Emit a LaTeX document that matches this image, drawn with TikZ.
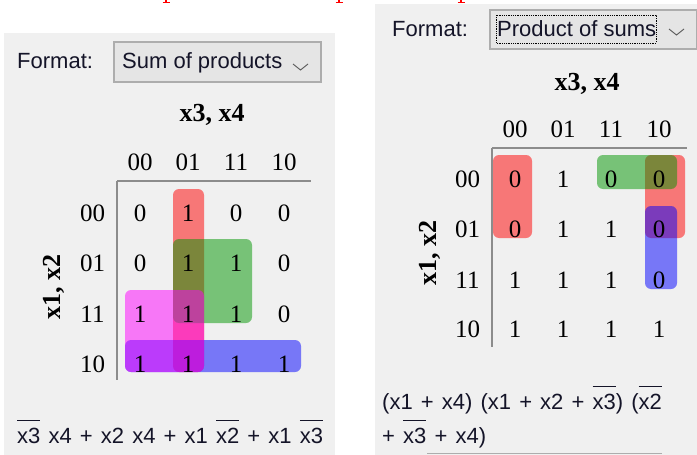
\documentclass[tikz,border=0pt]{standalone}
\usepackage{fontspec}
\setmainfont{Liberation Serif}
\newfontfamily\uisans{Liberation Sans}
\newsavebox\ovlbox
\newcommand\ovl[1]{\sbox\ovlbox{#1}\rlap{\raisebox{0.98em}{\rule{\wd\ovlbox}{1.3pt}}}\usebox\ovlbox}
\newcommand\widesp{\spaceskip=0.37em\relax}
\definecolor{panelgrey}{RGB}{240,240,240}
\definecolor{combofill}{RGB}{229,229,229}
\definecolor{comboborder}{RGB}{173,173,173}
\definecolor{gridgrey}{RGB}{140,140,140}
\definecolor{chevgrey}{RGB}{96,96,96}
\definecolor{grpred}{RGB}{255,0,0}
\definecolor{grpgreen}{RGB}{0,150,0}
\definecolor{grpblue}{RGB}{0,0,255}
\definecolor{grpmag}{RGB}{255,0,255}
\definecolor{uitextcol}{RGB}{20,20,40}
\begin{document}
\begin{tikzpicture}[x=1pt,y=-1pt,
  panel/.style={fill=panelgrey,draw=none},
  combo/.style={fill=combofill,draw=comboborder,line width=1.2pt},
  uitext/.style={font=\uisans\fontsize{22}{26}\selectfont,text=uitextcol,inner sep=0pt,anchor=base west},
  digit/.style={font=\fontsize{25}{30}\selectfont,inner sep=0pt,anchor=base},
  axislabel/.style={font=\bfseries\fontsize{26}{30}\selectfont,inner sep=0pt,anchor=base},
  gridline/.style={draw=gridgrey,line width=1.5pt},
  grp/.style={rounded corners=6pt,fill opacity=0.5,draw=none},
  chev/.style={draw=chevgrey,line width=1pt},
  redmark/.style={draw=red,line width=1.6pt}]
\useasboundingbox (0,0) rectangle (697,455);
% red cut-off marks at the top
\draw[redmark] (166,0) -- (166,2.5) (162.5,2.5) -- (169.5,2.5);
\draw[redmark] (339,0) -- (339,2.5) (335.5,2.5) -- (342.5,2.5);
\draw[redmark] (461,0) -- (461,2.5) (457.5,2.5) -- (464.5,2.5);
% panels
\fill[panel] (4,33) rectangle (335,455);
\fill[panel] (375,3.5) rectangle (697,455);
% ---------------- left panel ----------------
\node[uitext] (Lfmt) at (17,68.5) {Format:};
\draw[combo] (114,42) rectangle (321,82);
\node[uitext] (Lcombo) at (122,68.5) {Sum of products};
\draw[chev] (293,64) -- (300.5,70) -- (308,64);
\node[axislabel] (Lx34) at (212,121) {x3, x4};
\node[axislabel,rotate=90] (Lx12) at (60,287) {x1, x2};
% groups
\fill[grp,grpred] (173,189) rectangle (204,372);
\fill[grp,grpgreen] (173,239) rectangle (252,323);
\fill[grp,grpblue] (125,340) rectangle (301,372);
\fill[grp,grpmag] (125,290) rectangle (204,372);
% grid lines
\draw[gridline] (117,181) -- (311,181);
\draw[gridline] (117,181) -- (117,380);
% headers
\foreach \h [count=\c] in {00,01,11,10}
  \node[digit] (LH\c) at ({140+48*(\c-1)},170) {\h};
\foreach \h/\ry [count=\r] in {00/221,01/271.5,11/322,10/372}
  \node[digit] (LR\r) at (92.5,\ry) {\h};
% cells
\foreach \r/\ry/\vals in {1/221/{0,1,0,0},2/271.5/{0,1,1,0},3/322/{1,1,1,0},4/372/{1,1,1,1}}
  \foreach \v [count=\c] in \vals
    \node[digit] (L\r\c) at ({140+48*(\c-1)},\ry) {\v};
\node[uitext] (Lexpr) at (17,443) {\widesp\ovl{x3} x4 + x2 x4 + x1 \ovl{x2} + x1 \ovl{x3}};
% ---------------- right panel ----------------
\node[uitext] (Rfmt) at (392,36) {Format:};
\draw[combo] (490,10) rectangle (696.4,49);
\draw[densely dotted,line width=0.8pt] (496,15) rectangle (656,43);
\node[uitext] (Rcombo) at (497,36) {Product of sums};
\draw[chev] (669,29) -- (676.5,35) -- (684,29);
\node[axislabel] (Rx34) at (587,90) {x3, x4};
\node[axislabel,rotate=90] (Rx12) at (436,253) {x1, x2};
% groups
\fill[grp,grpred] (493,155) rectangle (532,238);
\fill[grp,grpred] (645,155) rectangle (685,238);
\fill[grp,grpgreen] (597,155) rectangle (677,189);
\fill[grp,grpblue] (645,206) rectangle (677,289);
% grid lines
\draw[gridline] (492,148) -- (687,148);
\draw[gridline] (492,148) -- (492,347);
\foreach \h [count=\c] in {00,01,11,10}
  \node[digit] (RH\c) at ({515+48*(\c-1)},137) {\h};
\foreach \h/\ry [count=\r] in {00/187,01/237,11/288,10/337}
  \node[digit] (RR\r) at (467.5,\ry) {\h};
\foreach \r/\ry/\vals in {1/187/{0,1,0,0},2/237/{0,1,1,0},3/288/{1,1,1,0},4/337/{1,1,1,1}}
  \foreach \v [count=\c] in \vals
    \node[digit] (R\r\c) at ({515+48*(\c-1)},\ry) {\v};
\node[uitext] (Rexpr1) at (382,409) {\widesp(x1 + x4) (x1 + x2 + \ovl{x3}) (\ovl{x2}};
\node[uitext] (Rexpr2) at (382,443) {\widesp+ \ovl{x3} + x4)};
\draw[draw=comboborder,line width=1pt] (427,453.5) -- (662,453.5);
\end{tikzpicture}
\end{document}
